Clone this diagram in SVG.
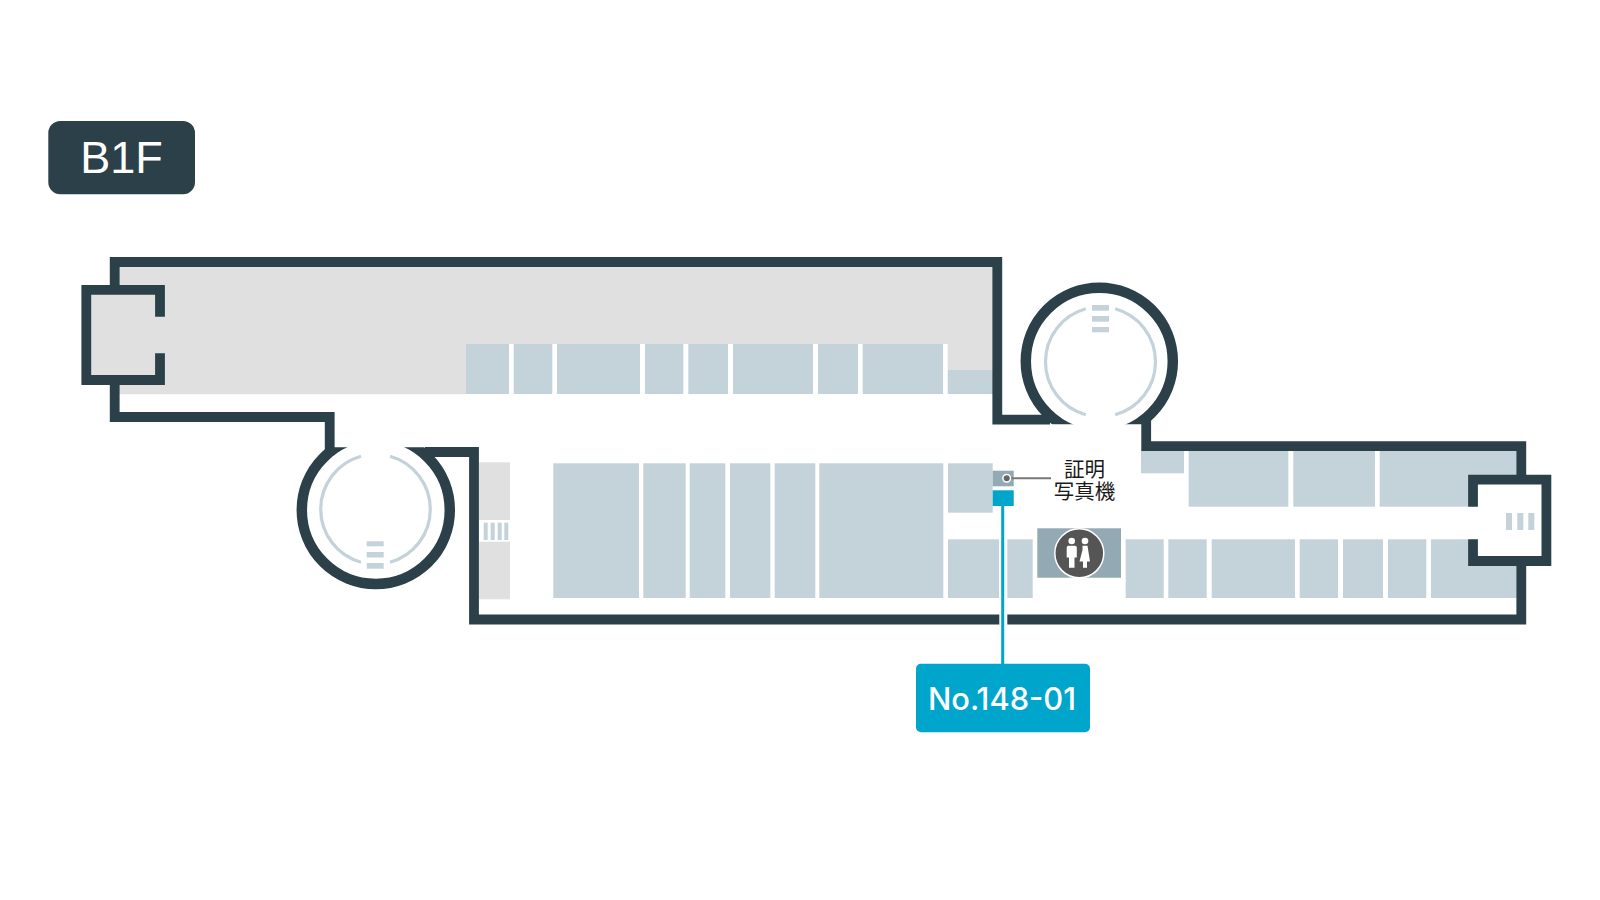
<svg xmlns="http://www.w3.org/2000/svg" width="1600" height="900" viewBox="0 0 1600 900">
<style>
.room{fill:#c4d2d9}
.grey{fill:#e0e0e0}
.wall{fill:none;stroke:#2c4049;stroke-width:9.800;stroke-linejoin:miter;stroke-linecap:butt}
.ring{stroke-width:10.500}
.arc{fill:none;stroke:#c4d2d9;stroke-width:3.2}
.fig{fill:#fff}
.sans{font-family:"Liberation Sans",Arial,sans-serif}
</style>
<defs>
<clipPath id="clipTop"><rect x="1000" y="270" width="200" height="154.3"/></clipPath>
<clipPath id="clipBottom"><rect x="280" y="447.3" width="200" height="160"/></clipPath>
</defs>
<rect width="1600" height="900" fill="#fff"/>
<g id="floor-grey">
<rect class="grey" x="117" y="266" width="876" height="128.300"/>
<rect class="grey" x="90" y="293" width="40" height="84"/>
<rect x="466" y="344" width="527" height="52" fill="#fff"/>
<rect x="947.700" y="344" width="45.300" height="26" class="grey"/>
<rect class="grey" x="479" y="462.300" width="31" height="57.700"/>
<rect class="grey" x="479" y="541.700" width="31" height="57.600"/>
</g>
<g id="rooms-upper">
<rect class="room" x="466" y="344" width="43" height="50"/>
<rect class="room" x="513.700" y="344" width="38.600" height="50"/>
<rect class="room" x="557" y="344" width="83" height="50"/>
<rect class="room" x="645" y="344" width="38.300" height="50"/>
<rect class="room" x="688.300" y="344" width="39.700" height="50"/>
<rect class="room" x="733" y="344" width="80" height="50"/>
<rect class="room" x="818" y="344" width="40" height="50"/>
<rect class="room" x="862.700" y="344" width="80.300" height="50"/>
<rect class="room" x="947.700" y="370" width="45.300" height="24"/>
</g>
<g id="rooms-lower">
<rect class="room" x="553.300" y="463.300" width="85.700" height="134.700"/>
<rect class="room" x="643.300" y="463.300" width="42.400" height="134.700"/>
<rect class="room" x="689.700" y="463.300" width="35.600" height="134.700"/>
<rect class="room" x="730" y="463.300" width="40.300" height="134.700"/>
<rect class="room" x="774.700" y="463.300" width="40.600" height="134.700"/>
<rect class="room" x="819.300" y="463.300" width="124" height="134.700"/>
<rect class="room" x="948" y="463.300" width="44.700" height="49.400"/>
<rect class="room" x="948" y="539.300" width="51" height="58.700"/>
<rect class="room" x="1007.300" y="539.300" width="25.400" height="58.700"/>
</g>
<g id="rooms-east">
<rect class="room" x="1141" y="450" width="43" height="23.300"/>
<rect class="room" x="1188.700" y="450" width="99.600" height="56.700"/>
<rect class="room" x="1293.300" y="450" width="81.700" height="56.700"/>
<rect class="room" x="1379.700" y="450" width="137" height="56.700"/>
<rect class="room" x="1125.700" y="539.300" width="38" height="58.700"/>
<rect class="room" x="1168.300" y="539.300" width="38.400" height="58.700"/>
<rect class="room" x="1211.700" y="539.300" width="83.300" height="58.700"/>
<rect class="room" x="1299.700" y="539.300" width="38.300" height="58.700"/>
<rect class="room" x="1343" y="539.300" width="40" height="58.700"/>
<rect class="room" x="1388" y="539.300" width="38.300" height="58.700"/>
<rect class="room" x="1431" y="539.300" width="85.700" height="58.700"/>
<rect x="1468" y="475" width="83" height="91" fill="#fff"/>
</g>
<g id="stairs-north" class="room">
<path class="arc" d="M1085.800 308.700A55 55 0 0 0 1085.800 414.700M1115.200 308.700A55 55 0 0 1 1115.200 414.700"/>
<rect x="1092" y="305" width="17" height="5.700"/>
<rect x="1092" y="316" width="17" height="5.700"/>
<rect x="1092" y="327" width="17" height="5.300"/>
</g>
<g id="stairs-south" class="room">
<path class="arc" d="M361 456.300A55 55 0 0 0 361 562.300M390 456.300A55 55 0 0 1 390 562.300"/>
<rect x="366.700" y="541.300" width="17" height="5"/>
<rect x="366.700" y="552" width="17" height="5.500"/>
<rect x="366.700" y="563" width="17" height="5.700"/>
</g>
<g id="stairs-west" class="room">
<rect x="483.700" y="522.700" width="4" height="17.300"/>
<rect x="490.700" y="522.700" width="4" height="17.300"/>
<rect x="497.700" y="522.700" width="4" height="17.300"/>
<rect x="504.300" y="522.700" width="4" height="17.300"/>
</g>
<g id="stairs-east" class="room">
<rect x="1506" y="513" width="6" height="17"/>
<rect x="1517.300" y="513" width="6" height="17"/>
<rect x="1528.300" y="513" width="6" height="17"/>
</g>
<g id="walls">
<path class="wall" d="M114.700 290V262H997.300V419.700H1050"/>
<path class="wall" d="M114.700 380V417H329.700V455"/>
<path class="wall" d="M425 452H474V619.500H1521.300V561"/>
<path class="wall" d="M1521.300 480V446.200H1146.200V415"/>
<path class="wall" d="M160 316.700V289.800H86.300V380H160V353.300"/>
<path class="wall" d="M1473 506.700V479.700H1546.400V561H1473V539.300"/>
<circle class="wall ring" cx="1099.300" cy="361.300" r="73.500" clip-path="url(#clipTop)"/>
<circle class="wall ring" cx="375.800" cy="510" r="74" clip-path="url(#clipBottom)"/>
<rect x="999.300" y="612" width="8" height="15" fill="#fff"/>
</g>
<g id="toilet">
<rect x="1037.300" y="528.300" width="83.700" height="49.400" fill="#93a9b3"/>
<circle cx="1079.300" cy="553.300" r="24.500" fill="#555" stroke="#fff" stroke-width="1.500"/>
<circle class="fig" cx="1071.700" cy="541" r="3.300"/>
<path class="fig" d="M1068.500 545.800H1075a1.800 1.800 0 0 1 1.800 1.800V557.500H1074.500V567.800H1069V557.500H1066.700V547.600a1.800 1.800 0 0 1 1.800-1.800Z"/>
<circle class="fig" cx="1085" cy="541" r="3.300"/>
<path class="fig" d="M1082.500 545.800H1087.500L1090 561.500H1087V567.800H1083V561.500H1079.500L1082.500 550Z"/>
</g>
<g id="photo-booth">
<rect x="992.700" y="470.700" width="21" height="15.600" fill="#93a9b3"/>
<text font-size="20.500" text-anchor="middle" font-family="'Noto Sans CJK JP','Noto Sans CJK SC',sans-serif" fill="#1a1a1a"><tspan x="1084.500" y="477">証明</tspan><tspan x="1084.500" y="499">写真機</tspan></text>
</g>
<g id="target-unit">
<rect x="992.700" y="490.300" width="21" height="15.700" fill="#00a5cc"/>
</g>
<g id="connectors">
<line x1="1002.700" y1="505" x2="1002.700" y2="665" stroke="#00a5cc" stroke-width="3"/>
<line x1="1006.700" y1="478.300" x2="1051" y2="478.300" stroke="#777" stroke-width="2"/>
<circle cx="1006.700" cy="478.300" r="3.800" fill="#666" stroke="#fff" stroke-width="1.500"/>
</g>
<g id="label-no">
<rect x="916" y="663.800" width="174" height="68.400" rx="5" fill="#00a5cc"/>
<text x="1002" y="710" font-family="Inter,'Liberation Sans',sans-serif" font-size="31" font-weight="500" text-anchor="middle" textLength="148" lengthAdjust="spacingAndGlyphs" fill="#fff">No.148-01</text>
</g>
<g id="label-floor">
<rect x="48.300" y="121" width="146.700" height="73.300" rx="12" fill="#2c4049"/>
<text class="sans" x="121.500" y="173.300" font-size="45" text-anchor="middle" fill="#fff">B1F</text>
</g>
</svg>
